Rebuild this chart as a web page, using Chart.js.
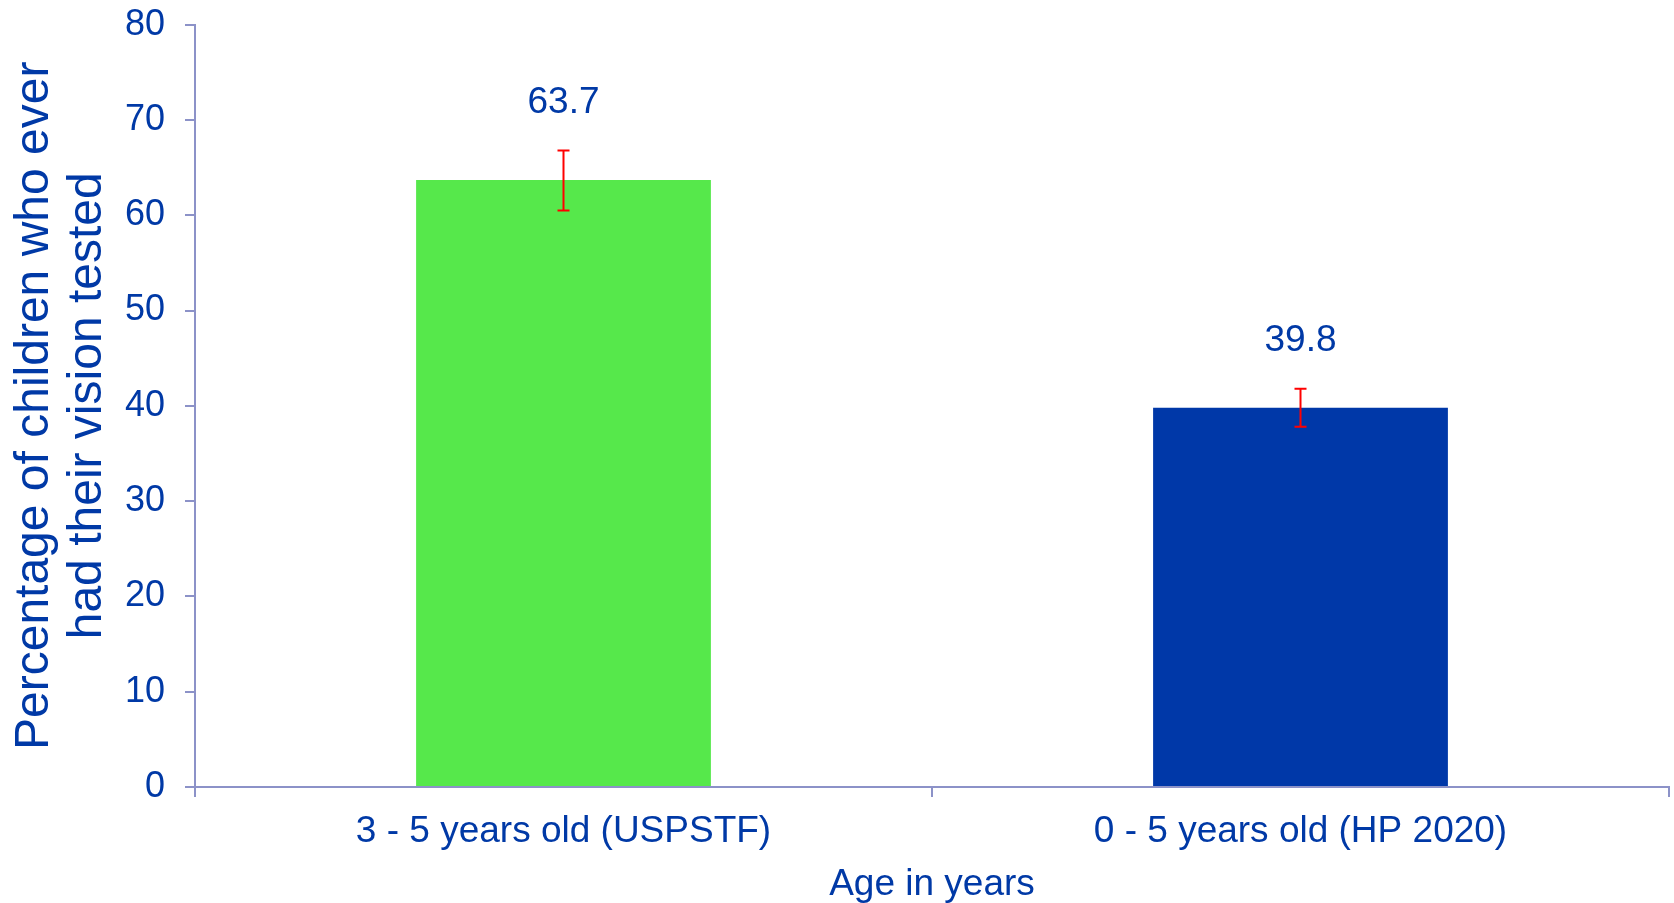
<!DOCTYPE html>
<html>
<head>
<meta charset="utf-8">
<script src="https://cdn.jsdelivr.net/npm/chart.js@4"></script>
<style>
  html, body { margin: 0; padding: 0; background: #ffffff; }
  #wrap { width: 1674px; height: 903px; }
</style>
</head>
<body>
<div id="wrap"><canvas id="c" width="1674" height="903"></canvas></div>
<script>
const categories = ['3 - 5 years old (USPSTF)', '0 - 5 years old (HP 2020)'];
const values = [63.7, 39.8];
const errLow = [60.5, 37.8];
const errHigh = [66.8, 41.8];
const barColors = ['#56e84b', '#0038a8'];
const yTickMin = 0;
const yTickMax = 80;
const yTickStep = 10;
const xTitle = 'Age in years';
const yTitle = ['Percentage of children who ever', 'had their vision tested'];

const FONT = '"Liberation Sans", Arial, Helvetica, sans-serif';
const TEXT = '#0039a6';
const AXIS = '#8c92c8';

const errorBarPlugin = {
  id: 'errorBars',
  afterDatasetsDraw(chart) {
    const ctx = chart.ctx;
    const meta = chart.getDatasetMeta(0);
    const ys = chart.scales.y;
    ctx.save();
    meta.data.forEach((bar, i) => {
      const x = bar.x;
      const yHi = ys.getPixelForValue(errHigh[i]);
      const yLo = ys.getPixelForValue(errLow[i]);
      ctx.strokeStyle = '#ff0000';
      ctx.lineWidth = 2;
      ctx.beginPath();
      ctx.moveTo(x, yHi); ctx.lineTo(x, yLo);
      ctx.moveTo(x - 6, yHi); ctx.lineTo(x + 6, yHi);
      ctx.moveTo(x - 6, yLo); ctx.lineTo(x + 6, yLo);
      ctx.stroke();
      ctx.fillStyle = TEXT;
      ctx.font = '37px ' + FONT;
      ctx.textAlign = 'center';
      ctx.textBaseline = 'middle';
      ctx.fillText(values[i].toFixed(1), x, yHi - 48);
    });
    ctx.restore();
  }
};

new Chart(document.getElementById('c'), {
  type: 'bar',
  data: {
    labels: categories,
    datasets: [{
      data: values,
      backgroundColor: barColors,
      borderWidth: 0,
      barPercentage: 0.4,
      categoryPercentage: 1.0
    }]
  },
  options: {
    responsive: false,
    devicePixelRatio: 1,
    animation: false,
    layout: { padding: { top: 24.6, right: 5, left: 0, bottom: 0 } },
    plugins: { legend: { display: false }, tooltip: { enabled: false } },
    scales: {
      x: {
        grid: { display: true, drawOnChartArea: false, drawTicks: true, tickLength: 10, color: AXIS, lineWidth: 2, offset: true },
        border: { display: true, color: AXIS, width: 2 },
        ticks: { color: TEXT, font: { family: FONT, size: 37, lineHeight: 1.2 }, padding: 13, maxRotation: 0, autoSkip: false },
        title: { display: true, text: xTitle, color: TEXT, font: { family: FONT, size: 37, lineHeight: 1.0 }, padding: { top: 0, bottom: 0 } },
        afterFit(s) { s.height = 116; s.paddingLeft = 0; s.paddingRight = 0; }
      },
      y: {
        min: yTickMin,
        max: yTickMax,
        grid: { display: true, drawOnChartArea: false, drawTicks: true, tickLength: 10, color: AXIS, lineWidth: 2 },
        border: { display: true, color: AXIS, width: 2 },
        ticks: { stepSize: yTickStep, color: TEXT, font: { family: FONT, size: 36, lineHeight: 1.2 }, padding: 20 },
        title: { display: true, text: yTitle, color: TEXT, font: { family: FONT, size: 48, lineHeight: 1.09 }, padding: { top: 9, bottom: 0 } },
        afterFit(s) { s.width = 195; s.paddingTop = 0; s.paddingBottom = 0; }
      }
    }
  },
  plugins: [errorBarPlugin]
});
</script>
</body>
</html>
